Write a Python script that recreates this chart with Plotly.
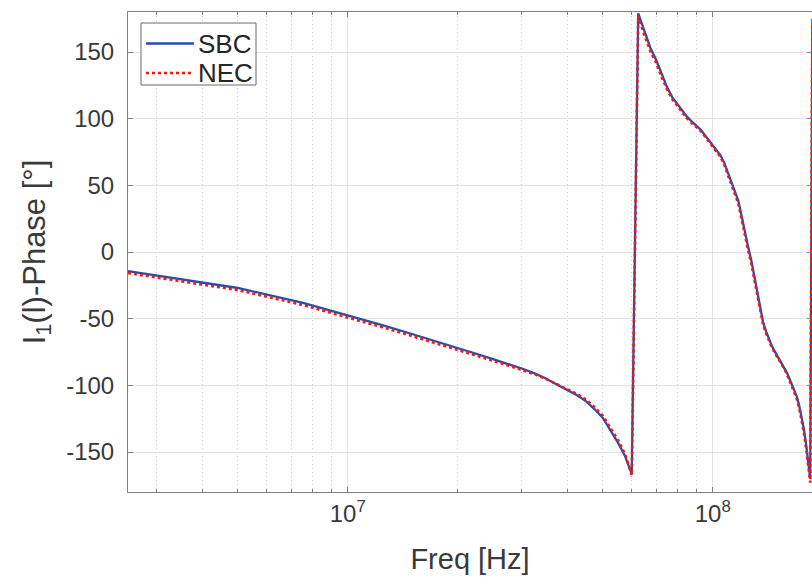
import math
import plotly.graph_objects as go

# Frequency samples [MHz]
freq_mhz = [2.5, 5.0, 7.5, 10.0, 12.5, 15.0, 17.5, 20.0, 22.5, 25.0,
            27.5, 30.0, 32.5, 35.0, 37.5, 40.0, 42.5, 45.0, 47.5, 50.0,
            52.5, 55.0, 57.5, 60.0, 62.5, 65.0, 67.5, 70.0, 72.5, 75.0,
            77.5, 80.0, 82.5, 85.0, 87.5, 90.0, 92.5, 95.0, 97.5, 100.0,
            102.5, 105.0, 107.5, 110.0, 112.5, 115.0, 117.5, 120.0, 122.5, 125.0,
            127.5, 130.0, 132.5, 135.0, 137.5, 140.0, 142.5, 145.0, 147.5, 150.0,
            152.5, 155.0, 157.5, 160.0, 162.5, 165.0, 167.5, 170.0, 172.5, 175.0,
            177.5, 180.0, 182.5, 185.0, 187.5]

# Phase of I1(l) [deg]
sbc_phase = [-14.4, -27.0, -38.0, -47.5, -55.0, -61.5, -67.0, -71.7, -76.3, -80.4,
             -84.0, -87.4, -91.0, -95.0, -99.5, -103.5, -107.5, -112.0, -118.0, -124.5,
             -134.0, -143.0, -153.0, -166.4, 179.0, 165.0, 153.0, 144.0, 133.0, 123.5,
             116.0, 111.0, 106.5, 101.5, 98.0, 95.0, 92.0, 88.0, 84.0, 80.4,
             77.0, 72.5, 67.0, 60.0, 52.0, 45.0, 38.5, 27.0, 14.0, 4.0,
             -6.0, -18.0, -31.0, -44.0, -53.0, -59.5, -65.0, -70.0, -74.0, -77.5,
             -80.3, -83.5, -87.0, -91.0, -95.4, -100.0, -104.0, -108.5, -115.0, -122.8,
             -132.0, -143.0, -157.0, -170.0, 175.0]

nec_phase = [-15.8, -28.6, -39.6, -49.0, -56.6, -63.0, -68.5, -73.1, -77.6, -81.6,
             -85.1, -88.3, -91.7, -95.4, -99.5, -103.0, -106.5, -110.8, -116.5, -122.8,
             -132.0, -141.0, -151.5, -167.5, 177.0, 162.5, 150.5, 141.8, 131.0, 121.8,
             114.5, 109.6, 105.3, 100.3, 96.9, 94.0, 91.0, 87.0, 83.0, 79.3,
             75.8, 71.2, 65.5, 58.3, 50.2, 43.0, 36.3, 24.5, 11.5, 1.5,
             -8.5, -20.5, -33.5, -46.0, -54.8, -61.0, -66.3, -71.2, -75.1, -78.5,
             -81.3, -84.5, -88.1, -92.2, -96.7, -101.4, -105.5, -110.2, -117.0, -125.0,
             -134.5, -146.0, -160.5, -173.0, 172.0]

series_names = ["SBC", "NEC"]
y_ticks = [-150, -100, -50, 0, 50, 100, 150]
y_ticktext = ["-150", "-100", "-50", "0", "50", "100", "150"]
x_ticks = [1e7, 1e8]
x_ticktext = ["10<sup>7</sup>", "10<sup>8</sup>"]
x_minor = [3e6, 4e6, 5e6, 6e6, 7e6, 8e6, 9e6,
           2e7, 3e7, 4e7, 5e7, 6e7, 7e7, 8e7, 9e7]

freq_hz = [f * 1e6 for f in freq_mhz]

FONT = "Liberation Sans, Arial, Helvetica, sans-serif"
TXT = "#3a3a3a"
AX = "#808080"
BLUE = "#2a4ea6"
RED = "#f01818"

# plot-area geometry (pixels) used to place the in-axes legend box
L, T, W, H = 128, 12, 684, 480


def px(x):
    return (x - L) / W


def py(y):
    return 1 - (y - T) / H


fig = go.Figure()
fig.add_trace(go.Scatter(x=freq_hz, y=sbc_phase, mode="lines", name=series_names[0],
                         showlegend=False, line=dict(color=BLUE, width=2.3)))
fig.add_trace(go.Scatter(x=freq_hz, y=nec_phase, mode="lines", name=series_names[1],
                         showlegend=False, line=dict(color=RED, width=2.6, dash="dot")))

# legend box (MATLAB-style, inside the axes, top-left)
shapes = [
    dict(type="rect", xref="paper", yref="paper", layer="above",
         x0=px(141), x1=px(256), y0=py(85), y1=py(23),
         fillcolor="white", line=dict(color="#6a6a6a", width=1)),
    dict(type="line", xref="paper", yref="paper", layer="above",
         x0=px(146), x1=px(194), y0=py(43.5), y1=py(43.5),
         line=dict(color=BLUE, width=2.3)),
    dict(type="line", xref="paper", yref="paper", layer="above",
         x0=px(146), x1=px(194), y0=py(73), y1=py(73),
         line=dict(color=RED, width=2.6, dash="dot")),
]
annotations = [
    dict(xref="paper", yref="paper", x=px(196), y=py(43.5), text=series_names[0],
         showarrow=False, xanchor="left", yanchor="middle",
         font=dict(size=26, color="#262626", family=FONT)),
    dict(xref="paper", yref="paper", x=px(196), y=py(73), text=series_names[1],
         showarrow=False, xanchor="left", yanchor="middle",
         font=dict(size=26, color="#262626", family=FONT)),
]

fig.update_layout(
    width=812, height=588,
    margin=dict(l=L, r=0, t=T, b=96, autoexpand=False),
    paper_bgcolor="white", plot_bgcolor="white",
    font=dict(family=FONT, color=TXT, size=24),
    showlegend=False,
    shapes=shapes,
    annotations=annotations,
    xaxis=dict(
        type="log", automargin=False,
        range=[math.log10(2.5e6), 8.272],
        tickmode="array", tickvals=x_ticks, ticktext=x_ticktext,
        ticks="inside", ticklen=5, tickcolor=AX, tickwidth=1,
        showline=True, linecolor=AX, linewidth=1, mirror="ticks",
        showgrid=True, gridcolor="#e3e3e3", gridwidth=1,
        zeroline=False,
        tickfont=dict(size=24, color=TXT),
        title=dict(text="Freq [Hz]", font=dict(size=29, color=TXT), standoff=22),
        minor=dict(tickmode="array", tickvals=x_minor, ticks="inside", ticklen=3,
                   tickcolor=AX, showgrid=True, gridcolor="#cfcfcf",
                   griddash="1px,3px", gridwidth=1),
    ),
    yaxis=dict(
        automargin=False,
        range=[-180, 180],
        tickmode="array", tickvals=y_ticks, ticktext=y_ticktext,
        ticks="inside", ticklen=5, tickcolor=AX, tickwidth=1,
        showline=True, linecolor=AX, linewidth=1, mirror="ticks",
        showgrid=True, gridcolor="#e3e3e3", gridwidth=1,
        zeroline=False,
        tickfont=dict(size=24, color=TXT),
        ticklabelstandoff=8,
        title=dict(text="I<sub>1</sub>(l)-Phase [°]", font=dict(size=31, color=TXT), standoff=11),
    ),
)

fig.write_html("out.html", config={"displayModeBar": False},
               post_script="document.body.style.margin='0';document.body.style.overflow='hidden';")
